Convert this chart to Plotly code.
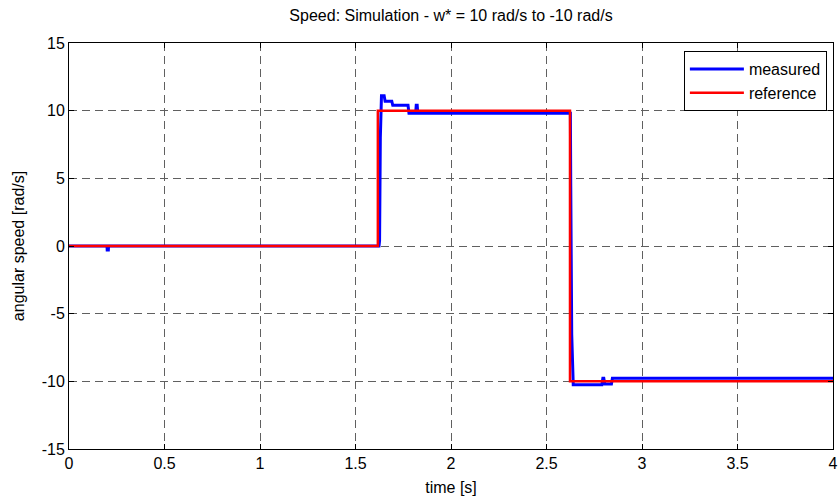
import plotly.graph_objects as go

# reference speed (step command)
ref_t = [0.0, 1.617, 1.617, 2.623, 2.623, 4.0]
ref_w = [0.0, 0.0, 10.0, 10.0, -10.0, -10.0]

# measured speed (breakpoints)
meas_t = [0.0, 0.199, 0.200, 0.206, 0.207, 1.623, 1.626, 1.630, 1.636, 1.650,
          1.655, 1.690, 1.695, 1.775, 1.780, 1.815, 1.818, 1.823, 1.826,
          2.625, 2.627, 2.632, 2.640, 2.790, 2.795, 2.800, 2.805, 2.840,
          2.845, 4.0]
meas_w = [0.0, 0.0, -0.3, -0.3, 0.0, 0.0, 0.4, 8.0, 11.1, 11.1,
          10.7, 10.7, 10.4, 10.4, 9.8, 9.8, 10.4, 10.4, 9.8,
          9.8, 4.4, -6.5, -10.25, -10.25, -9.78, -9.78, -10.2, -10.2,
          -9.78, -9.78]

x_ticks = [0, 0.5, 1, 1.5, 2, 2.5, 3, 3.5, 4]
x_labels = ["0", "0.5", "1", "1.5", "2", "2.5", "3", "3.5", "4"]
y_ticks = [-15, -10, -5, 0, 5, 10, 15]
y_labels = ["-15", "-10", "-5", "0", "5", "10", "15"]

FONT = "Liberation Sans, Arial, sans-serif"
FS = 16

fig = go.Figure()
fig.add_trace(go.Scatter(x=meas_t, y=meas_w, mode="lines", name="measured",
                         line=dict(color="#0000ff", width=3)))
fig.add_trace(go.Scatter(x=ref_t, y=ref_w, mode="lines", name="reference",
                         line=dict(color="#ff0000", width=2.5)))

axis_common = dict(
    showline=True, linecolor="black", linewidth=1, mirror="ticks",
    ticks="inside", ticklen=5, tickcolor="black", tickwidth=1,
    showgrid=True, gridcolor="#606060", gridwidth=1, griddash="8px,5px",
    zeroline=False, tickfont=dict(family=FONT, size=FS, color="black"),
)

fig.update_layout(
    width=840, height=496,
    margin=dict(l=69, r=7, t=43, b=47, autoexpand=False),
    paper_bgcolor="white", plot_bgcolor="white",
    title=dict(text="Speed: Simulation - w* = 10 rad/s to -10 rad/s",
               x=(69 + 833) / 2 / 840, xanchor="center", y=1 - 15 / 496,
               yanchor="middle", font=dict(family=FONT, size=FS, color="black")),
    xaxis=dict(range=[0, 4], tickvals=x_ticks, ticktext=x_labels,
               title=dict(text="time [s]", standoff=10,
                          font=dict(family=FONT, size=FS, color="black")),
               **axis_common),
    yaxis=dict(range=[-15, 15], tickvals=y_ticks, ticktext=y_labels,
               title=dict(text="angular speed [rad/s]", standoff=13,
                          font=dict(family=FONT, size=FS, color="black")),
               **axis_common),
    legend=dict(x=0.992, y=0.98, xanchor="right", yanchor="top",
                bgcolor="white", bordercolor="black", borderwidth=1,
                font=dict(family=FONT, size=FS, color="black"),
                itemwidth=54, tracegroupgap=0),
    showlegend=True,
)

fig.write_html("out.html")
